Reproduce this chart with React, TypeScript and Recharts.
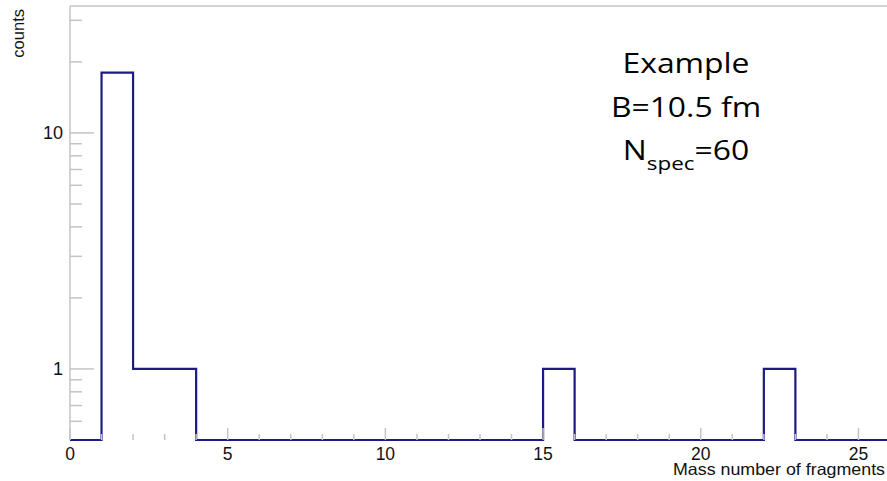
import React from "react";
import { LineChart, Line, XAxis, YAxis, ReferenceLine } from "recharts";

// Histogram: unit-width bins starting at these lower edges
const binLowEdges = [0, 1, 2, 3, 4, 5, 6, 7, 8, 9, 10, 11, 12, 13, 14, 15, 16, 17, 18, 19, 20, 21, 22, 23, 24, 25];
const binCounts = [0, 18, 1, 1, 0, 0, 0, 0, 0, 0, 0, 0, 0, 0, 0, 1, 0, 0, 0, 0, 0, 0, 1, 0, 0, 0];
const xUpperEdge = 26;

const xTicks = [0, 1, 2, 3, 4, 5, 6, 7, 8, 9, 10, 11, 12, 13, 14, 15, 16, 17, 18, 19, 20, 21, 22, 23, 24, 25];
const xMajorLabels = [0, 5, 10, 15, 20, 25];
const yTicks = [0.6, 0.7, 0.8, 0.9, 1, 2, 3, 4, 5, 6, 7, 8, 9, 10, 20, 30];
const yMajorLabels = [1, 10];

const yMin = 0.5;
const yMax = 34.5;

const data = [
  ...binLowEdges.map((x, i) => ({ x, y: binCounts[i] > 0 ? binCounts[i] : yMin })),
  { x: xUpperEdge, y: binCounts[binCounts.length - 1] > 0 ? binCounts[binCounts.length - 1] : yMin },
];

const AXIS_GREY = "#c4c4c4";
const LINE_COLOR = "#1b1b82";
const FONT = "'Liberation Sans', Arial, Helvetica, sans-serif";

const YTick = (props: any) => {
  const { x, y, payload } = props;
  const v = payload.value;
  const major = yMajorLabels.includes(v);
  const len = major ? 24 : 12;
  return (
    <g>
      <line x1={x} y1={y} x2={x + len} y2={y} stroke={AXIS_GREY} strokeWidth={1.5} />
      {major && (
        <text x={x - 7} y={y} dy={6.5} textAnchor="end" fontSize={18} fontFamily={FONT} fill="#111">
          {v}
        </text>
      )}
    </g>
  );
};

const XTick = (props: any) => {
  const { x, y, payload } = props;
  const v = payload.value;
  const major = xMajorLabels.includes(v);
  const len = major ? 12 : 6;
  return (
    <g>
      <line x1={x} y1={y} x2={x} y2={y - len} stroke={AXIS_GREY} strokeWidth={1.5} />
      {major && (
        <text x={x} y={y} dy={19.5} textAnchor="middle" fontSize={17.5} fontFamily={FONT} fill="#111">
          {v}
        </text>
      )}
    </g>
  );
};

export default function App() {
  return (
    <div style={{ position: "fixed", left: 0, top: 0, width: 887, height: 481, overflow: "hidden", background: "#fff" }}>
      <LineChart
        width={890}
        height={481}
        data={data}
        margin={{ top: 6, right: 0, bottom: 0, left: 0 }}
      >
        <XAxis
          dataKey="x"
          type="number"
          domain={[0, xUpperEdge]}
          ticks={xTicks}
          interval={0}
          height={41}
          tickSize={0}
          tickMargin={0}
          tickLine={false}
          axisLine={false}
          tick={<XTick />}
        />
        <YAxis
          type="number"
          scale="log"
          domain={[yMin, yMax]}
          ticks={yTicks}
          interval={0}
          width={70}
          tickSize={0}
          tickMargin={0}
          tickLine={false}
          axisLine={{ stroke: AXIS_GREY, strokeWidth: 1.5 }}
          tick={<YTick />}
        />
        <ReferenceLine y={yMax} stroke={AXIS_GREY} strokeWidth={1.5} ifOverflow="visible" />
        <Line
          type="stepAfter"
          dataKey="y"
          stroke={LINE_COLOR}
          strokeWidth={2.2}
          dot={false}
          isAnimationActive={false}
        />
      </LineChart>
      <svg width={887} height={481} style={{ position: "absolute", left: 0, top: 0, pointerEvents: "none" }}>
        <text
          transform="translate(24,9) rotate(-90)"
          textAnchor="end"
          fontSize={16.5}
          fontFamily={FONT}
          fill="#111"
        >
          counts
        </text>
        <text
          x={885}
          y={475}
          textAnchor="end"
          fontSize={16.5}
          fontFamily={FONT}
          fill="#111"
          textLength={212}
          lengthAdjust="spacingAndGlyphs"
        >
          Mass number of fragments
        </text>
        <g
          fontFamily="'Open Sans', sans-serif"
          fontSize={27}
          fill="#000"
          textAnchor="middle"
          transform="translate(686,0) scale(1.18,1)"
        >
          <text x={0} y={73}>Example</text>
          <text x={0} y={117}>B=10.5 fm</text>
          <text x={0} y={160}>
            N
            <tspan fontSize={19} dy={10}>spec</tspan>
            <tspan dy={-10}>=60</tspan>
          </text>
        </g>
      </svg>
    </div>
  );
}
